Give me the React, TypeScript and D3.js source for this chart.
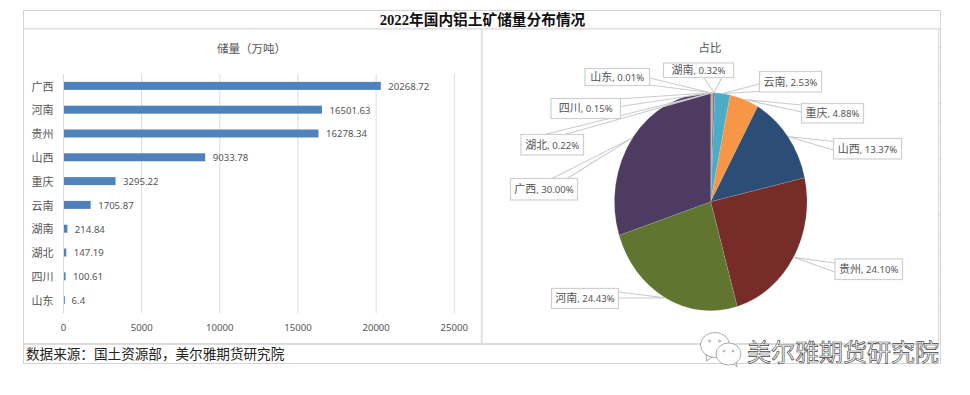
import React from "react";
import * as d3 from "d3";

const titleText = "2022年国内铝土矿储量分布情况";
const barTitle = "储量（万吨）";
const pieTitle = "占比";
const sourceText = "数据来源：国土资源部，美尔雅期货研究院";
const watermarkText = "美尔雅期货研究院";

const barCategories = ["广西", "河南", "贵州", "山西", "重庆", "云南", "湖南", "湖北", "四川", "山东"];
const barValues = [20268.72, 16501.63, 16278.34, 9033.78, 3295.22, 1705.87, 214.84, 147.19, 100.61, 6.4];
const xTicks = [0, 5000, 10000, 15000, 20000, 25000];

const pieCategories = ["山东", "四川", "湖北", "湖南", "云南", "重庆", "山西", "贵州", "河南", "广西"];
const piePercents = [0.01, 0.15, 0.22, 0.32, 2.53, 4.88, 13.37, 24.1, 24.43, 30.0];
const pieColors = ["#4f81bd", "#c0504d", "#9bbb59", "#8064a2", "#4bacc6", "#f79646", "#2c4d75", "#772c2a", "#5f7530", "#4d3b62"];

// Label box layout: [x0, y0, x1, y1, callout base x0, y0, x1, y1]
const labelLayout: Record<string, number[]> = {
  山东: [585, 68.5, 649.5, 85.5, 649.5, 78, 649.5, 85],
  四川: [551, 98.5, 620.5, 118.5, 620.5, 98.8, 620.5, 106.5],
  湖北: [521, 134.5, 583.5, 155, 545, 134.5, 565, 134.5],
  湖南: [663.5, 63, 733.5, 77.5, 704, 77.5, 722, 77.5],
  云南: [759.5, 71.5, 821.5, 92, 759.5, 84, 759.5, 91.5],
  重庆: [801.5, 103.5, 863.5, 123, 801.5, 105, 801.5, 112],
  山西: [833.5, 138.5, 901.5, 159, 833.5, 141.5, 833.5, 150],
  贵州: [835, 259, 902.5, 279.5, 835, 263, 835, 272],
  河南: [551.5, 288.5, 618.5, 308.5, 618.5, 292, 618.5, 298],
  广西: [510.5, 178.5, 577.5, 200, 552, 178.5, 567, 178.5],
};

const W = 970;
const H = 395;
const CJK = "'Noto Sans CJK SC', 'Noto Sans', sans-serif";
const NUM = "'Noto Sans', 'Noto Sans CJK SC', sans-serif";
const TXT = "#555555";
const LINE = "#dcdcdc";

export default function App() {
  const x = d3.scaleLinear().domain([0, 25000]).range([63.5, 454.3]);
  const y = d3.scaleBand<string>().domain(barCategories).range([74, 312]);
  const barH = 8;

  const cx = 710.7;
  const cy = 201.7;
  const rx = 96.3;
  const ry = 109;
  const pie = d3.pie<number>().sort(null).value((d) => d);
  const arcs = pie(piePercents);
  const arc = d3.arc<d3.PieArcDatum<number>>().innerRadius(0).outerRadius(rx);
  const rim = d3.arc<d3.PieArcDatum<number>>().innerRadius(rx).outerRadius(rx);

  return (
    <svg
      width={W}
      height={H}
      viewBox={`0 0 ${W} ${H}`}
      style={{ position: "absolute", left: 0, top: 0, background: "#fff" }}
    >
      {/* frame */}
      <rect x={23.5} y={10.5} width={917} height={353} fill="#fff" stroke="#d4d4d4" />
      <line x1={24} x2={940} y1={28.8} y2={28.8} stroke="#e4e4e4" strokeWidth={2} />
      <line x1={24} x2={940} y1={344} y2={344} stroke="#dcdcdc" strokeWidth={2} />
      <line x1={481.8} x2={481.8} y1={29} y2={343} stroke="#e2e2e2" strokeWidth={2} />
      <line x1={938.6} x2={938.6} y1={29} y2={343} stroke="#e2e2e2" strokeWidth={1.5} />
      {d3.range(47.5, 343, 18.7).map((t) => (
        <line key={t} x1={938} x2={940} y1={t} y2={t} stroke="#d8d8d8" />
      ))}

      <text x={482.5} y={25} textAnchor="middle" fontFamily={`'Liberation Serif', ${CJK}`} fontWeight={700} fontSize={14.7} fill="#111">
        {titleText}
      </text>

      {/* bar chart */}
      <text x={251.5} y={53} textAnchor="middle" fontFamily={CJK} fontSize={11.5} fill={TXT}>
        {barTitle}
      </text>
      {xTicks.map((t) => (
        <g key={t}>
          <line x1={x(t)} x2={x(t)} y1={74} y2={313} stroke={LINE} strokeWidth={1} />
          <text x={x(t)} y={331} textAnchor="middle" fontFamily={NUM} fontSize={9.6} fill={TXT}>
            {t}
          </text>
        </g>
      ))}
      {barCategories.map((c, i) => {
        const cyb = (y(c) as number) + y.bandwidth() / 2;
        return (
          <g key={c}>
            <text x={53.5} y={cyb + 4.6} textAnchor="end" fontFamily={CJK} fontSize={11} fill={TXT}>
              {c}
            </text>
            <rect x={x(0) + 0.5} y={cyb - barH / 2} width={Math.max(0.8, x(barValues[i]) - x(0))} height={barH} fill="#4f81bd" />
            <text x={x(barValues[i]) + 8} y={cyb + 3.8} fontFamily={NUM} fontSize={9.6} fill={TXT}>
              {barValues[i]}
            </text>
          </g>
        );
      })}

      {/* pie chart */}
      <text x={710} y={52} textAnchor="middle" fontFamily={CJK} fontSize={11.5} fill={TXT}>
        {pieTitle}
      </text>
      <g transform={`translate(${cx},${cy}) scale(1,${ry / rx})`}>
        {arcs.map((a, i) => (
          <path key={i} d={arc(a) as string} fill={pieColors[i]} stroke="#d8d8d8" strokeWidth={0.15} />
        ))}
      </g>
      {arcs.map((a, i) => {
        const name = pieCategories[i];
        const [, , , , bx0, by0, bx1, by1] = labelLayout[name];
        const [ax, ay] = rim.centroid(a);
        const px = cx + ax;
        const py = cy + (ay * ry) / rx;
        return (
          <path key={name} d={`M${bx0},${by0}L${px},${py}L${bx1},${by1}`} fill="#fff" fillOpacity={0.8} stroke="#cccccc" strokeWidth={1.1} />
        );
      })}
      {arcs.map((a, i) => {
        const name = pieCategories[i];
        const [x0, y0, x1, y1] = labelLayout[name];
        return (
          <g key={name}>
            <rect x={x0} y={y0} width={x1 - x0} height={y1 - y0} fill="#fff" stroke="#d0d0d0" strokeWidth={1.2} />
            <text x={(x0 + x1) / 2} y={(y0 + y1) / 2 + 3.8} textAnchor="middle" fill={TXT}>
              <tspan fontFamily={CJK} fontSize={11}>{name}</tspan>
              <tspan fontFamily={NUM} fontSize={9.6}>{`, ${piePercents[i].toFixed(2)}%`}</tspan>
            </text>
          </g>
        );
      })}

      {/* source */}
      <text x={26} y={359} fontFamily={CJK} fontSize={13.6} fill="#222">
        {sourceText}
      </text>

      {/* watermark */}
      <g fill="#fff" stroke="#8a8a8a" strokeWidth={0.7}>
        <path d="M706,355 L706.5,361 L712,357 Z" />
        <ellipse cx={715} cy={345} rx={14.5} ry={12.5} />
        <path d="M733,363 L737,367 L736,361 Z" />
        <ellipse cx={728.5} cy={354} rx={12.5} ry={11} />
        <circle cx={709.5} cy={341} r={1} />
        <circle cx={719.5} cy={341} r={1} />
        <circle cx={724} cy={351} r={0.9} />
        <circle cx={733} cy={351} r={0.9} />
      </g>
      <text x={747} y={361} fontFamily={CJK} fontSize={24} fill="#fff" stroke="#444" strokeWidth={0.65}>
        {watermarkText}
      </text>
    </svg>
  );
}
